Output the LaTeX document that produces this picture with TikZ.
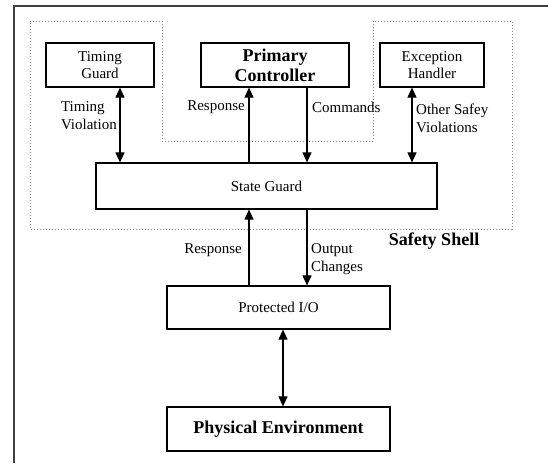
\documentclass[tikz,border=0pt]{standalone}
\usepackage{fontspec}
\setmainfont{Liberation Serif}
\usetikzlibrary{arrows.meta}

\begin{document}
\begin{tikzpicture}[x=1pt,y=-1pt,
    box/.style={draw,line width=1.2pt,inner sep=0pt,font=\fontsize{15}{17}\selectfont,align=center},
    bigbox/.style={box,font=\fontsize{18}{20}\selectfont\bfseries},
    lbl/.style={inner sep=0pt,font=\fontsize{15}{18}\selectfont,align=left},
    conn/.style={line width=1.1pt,-{Triangle[width=9pt,length=10pt]}},
    both/.style={line width=1.1pt,{Triangle[width=9pt,length=10pt]}-{Triangle[width=9pt,length=10pt]}}]
                \useasboundingbox (0,0) rectangle (548,463);
                \draw[line width=1.3pt,black!75] (548,6)--(14,6)--(14,463);
                \draw[dotted,line width=1pt,black!45] (30,21)--(162,21)--(162,141)--(373,141)--(373,21)--(512,21)--(512,229)--(30,229)--cycle;
                \node[box,minimum width=108,minimum height=44] (tg) at (100,65) {Timing\\Guard};
                \node[bigbox,minimum width=148,minimum height=44] (pc) at (275,65) {Primary\\Controller};
                \node[box,minimum width=104,minimum height=44] (eh) at (432,65) {Exception\\Handler};
                \node[box,minimum width=341,minimum height=46] (sg) at (266.5,186) {State Guard};
                \node[box,minimum width=223,minimum height=43] (pio) at (278.5,307.5) {Protected I/O};
                \node[bigbox,minimum width=223,minimum height=44] (pe) at (278.5,429) {Physical Environment};
                \coordinate (xt) at (120,0);
                \coordinate (xr) at (249,0);
                \coordinate (xc) at (307,0);
                \coordinate (xo) at (412,0);
                \coordinate (xp) at (283,0);
                \draw[both] (xt |- tg.south)--(xt |- sg.north);
                \draw[conn] (xr |- sg.north)--(xr |- pc.south);
                \draw[conn] (xc |- pc.south)--(xc |- sg.north);
                \draw[both] (xo |- eh.south)--(xo |- sg.north);
                \draw[conn] (xr |- pio.north)--(xr |- sg.south);
                \draw[conn] (xc |- sg.south)--(xc |- pio.north);
                \draw[both] (xp |- pio.south)--(xp |- pe.north);
                \node[lbl,anchor=east] (ltv) at (117,116) {Timing\\Violation};
                \node[lbl,anchor=east] (lr1) at (245,107) {Response};
                \node[lbl,anchor=west] (lc) at (312,107) {Commands};
                \node[lbl,anchor=west] (lo) at (416,118) {Other Safey\\Violations};
                \node[lbl,font=\fontsize{18}{20}\selectfont\bfseries] (ss) at (434,241) {Safety Shell};
                \node[lbl,anchor=east] (lr2) at (242,250) {Response};
                \node[lbl,anchor=west] (loc) at (311,259) {Output\\Changes};
            \end{tikzpicture}
\end{document}
